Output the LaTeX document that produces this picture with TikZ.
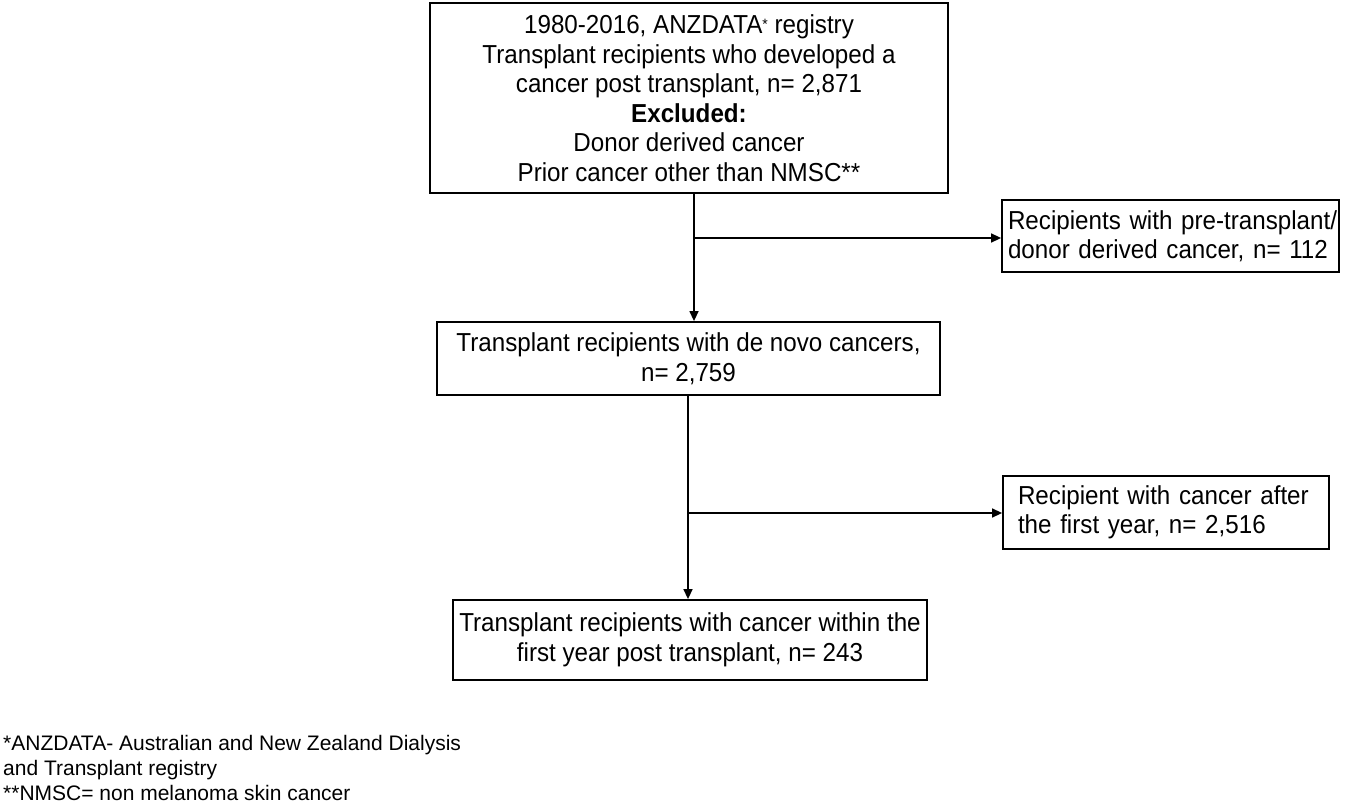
\documentclass[tikz,border=0pt]{standalone}
\usepackage{fontspec}
\setmainfont{Liberation Sans}
\newfontfamily\boxfont[FakeStretch=0.93]{Liberation Sans}
\usetikzlibrary{arrows.meta}
\begin{document}
\begin{tikzpicture}[x=1pt,y=-1pt,
  box/.style={draw, line width=1.8pt, align=center, inner sep=0pt, font=\boxfont\fontsize{26}{29.5}\selectfont},
  lbox/.style={draw, line width=1.8pt, align=left, inner ysep=0pt, font=\boxfont\fontsize{26}{29.5}\selectfont},
  conn/.style={line width=1.4pt, -{Triangle[length=10pt,width=9pt]}},
  foot/.style={align=left, inner sep=0pt, font=\fontsize{21}{25}\selectfont}]
\useasboundingbox (0,0) rectangle (1355,805);
\node[box, minimum width=518pt, minimum height=190pt] (a) at (689,98) {1980-2016, ANZDATA\raisebox{4pt}{\fontsize{15}{15}\selectfont*} registry\\Transplant recipients who developed a\\cancer post transplant, n= 2,871\\\textbf{Excluded:}\\Donor derived cancer\\Prior cancer other than NMSC**};
\node[lbox, minimum height=72pt, text width=325pt, inner xsep=6pt] (b) at (1170.5,236) {\mbox{Recipients with pre-transplant/}\\\mbox{donor derived cancer, n= 112}};
\node[box, minimum width=503pt, minimum height=73pt] (c) at (688.5,358.5) {Transplant recipients with de novo cancers,\\n= 2,759};
\node[lbox, minimum height=73pt, text width=296pt, inner xsep=15pt] (d) at (1166,512.5) {\mbox{Recipient with cancer after}\\\mbox{the first year, n= 2,516}};
\node[box, minimum width=474pt, minimum height=80pt] (e) at (690,640) {Transplant recipients with cancer within the\\first year post transplant, n= 243};
\coordinate (j1) at (694,238);
\coordinate (j2) at (688,513);
\draw[conn] (a.south -| j1) -- (c.north -| j1);
\draw[conn] (j1) -- (j1 -| b.west);
\draw[conn] (c.south -| j2) -- (e.north -| j2);
\draw[conn] (j2) -- (j2 -| d.west);
\node[foot, anchor=base west] (f) at (3,800) {*ANZDATA- Australian and New Zealand Dialysis\\and Transplant registry\\**NMSC= non melanoma skin cancer};
\end{tikzpicture}
\end{document}
